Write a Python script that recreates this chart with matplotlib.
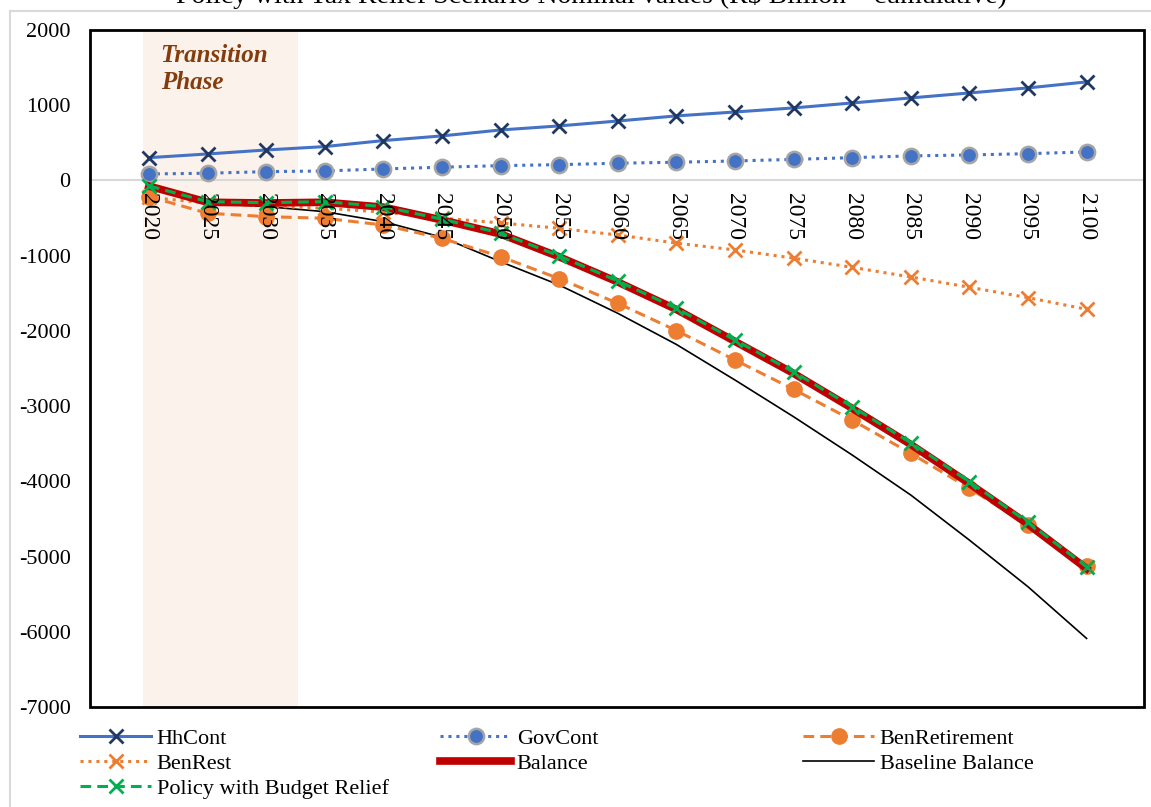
import numpy as np
import matplotlib
matplotlib.use('Agg')
import matplotlib.pyplot as plt
from matplotlib.lines import Line2D
from matplotlib.patches import Rectangle

plt.rcParams['font.family'] = ['Liberation Serif', 'DejaVu Serif']

# Valores nominais acumulados (R$ bilhões)
anos = list(range(2020, 2101, 5))
hh_cont = [303, 352, 405, 450, 530, 592, 671, 725, 790, 858, 910, 964, 1030, 1097, 1163, 1230, 1310]
gov_cont = [86, 96, 117, 126, 153, 176, 197, 210, 229, 242, 259, 280, 303, 326, 339, 356, 379]
ben_retirement = [-215, -436, -481, -503, -592, -770, -1013, -1305, -1633, -1995, -2387, -2777,
                  -3185, -3628, -4093, -4581, -5122]
ben_rest = [-225, -300, -340, -370, -420, -500, -565, -636, -725, -833, -924, -1033,
            -1155, -1283, -1420, -1558, -1713]
balance = [-75, -290, -300, -290, -355, -525, -712, -1015, -1350, -1715, -2140, -2565,
           -3030, -3510, -4030, -4570, -5160]
baseline_balance = [-75, -303, -348, -415, -548, -755, -1080, -1390, -1766, -2180, -2653, -3141,
                    -3650, -4182, -4781, -5401, -6088]
budget_relief = [-73, -282, -295, -282, -348, -515, -700, -1004, -1336, -1700, -2121, -2546,
                 -3008, -3487, -4005, -4545, -5136]

y_ticks = list(range(-7000, 2001, 1000))
fase_transicao = (2019.5, 2032.75)

W, H = 1151, 807
fig = plt.figure(figsize=(W / 100, H / 100), dpi=100)
ax = fig.add_axes([90 / W, 1 - 707 / H, (1144 - 90) / W, (707 - 30) / H])

# eixo das categorias cruzando em zero (antes de mexer nos rótulos, pois reseta os ticks)
for lado in ['top', 'left', 'right']:
    ax.spines[lado].set_visible(False)
ax.spines['bottom'].set_position(('data', 0))
ax.spines['bottom'].set_color('#D9D9D9')
ax.spines['bottom'].set_linewidth(1.5)
ax.spines['bottom'].set_zorder(2)

# faixa da fase de transição
ax.axvspan(*fase_transicao, color='#FCF2EC', zorder=0, lw=0)
ax.text(2021.0, 1810, 'Transition\nPhase', fontsize=18, fontweight='bold', fontstyle='italic',
        color='#843C0C', va='top', ha='left', linespacing=1.2, zorder=1)

ax.plot(anos, hh_cont, color='#4472C4', lw=2.2, marker='x', ms=10.5, mew=2,
        mec='#203864', label='HhCont', zorder=5)
ax.plot(anos, gov_cont, color='#4472C4', lw=2.2, ls=(0, (1, 1.6)), marker='o', ms=11,
        mfc='#4472C4', mec='#A5A5A5', mew=1.8, label='GovCont', zorder=5)
ax.plot(anos, ben_retirement, color='#ED7D31', lw=2.2, ls=(0, (3.5, 2)), marker='o', ms=11,
        mfc='#ED7D31', mec='#ED7D31', label='BenRetirement', zorder=4)
ax.plot(anos, ben_rest, color='#ED7D31', lw=2.2, ls=(0, (1, 1.6)), marker='x', ms=10.5, mew=2,
        label='BenRest', zorder=4)
ax.plot(anos, balance, color='#C00000', lw=5.5, label='Balance', zorder=6)
ax.plot(anos, baseline_balance, color='black', lw=1.2, label='Baseline Balance', zorder=3)
ax.plot(anos, budget_relief, color='#00B050', lw=2.2, ls=(0, (3.5, 2)), marker='x', ms=10.5, mew=2,
        label='Policy with Budget Relief', zorder=7)

ax.set_xlim(2014.97, 2104.9)
ax.set_ylim(-7000, 2000)
ax.set_yticks(y_ticks)
ax.set_yticklabels([str(v) for v in y_ticks], fontsize=16)
ax.set_xticks(anos)
ax.set_xticklabels([str(a) for a in anos], fontsize=17, rotation=270)
ax.tick_params(axis='x', length=0, pad=9)
ax.tick_params(axis='y', length=0, pad=14)
ax.xaxis.set_zorder(8)   # rótulos dos anos por cima das linhas

ax.add_patch(Rectangle((0, 0), 1, 1, transform=ax.transAxes, fill=False, ec='black',
                       lw=2, clip_on=False, zorder=10))

# moldura do gráfico
fig.add_artist(Line2D([10 / W, 10 / W], [0, 1 - 11 / H], color='#D9D9D9', lw=1.5))
fig.add_artist(Line2D([10 / W, 1], [1 - 11 / H, 1 - 11 / H], color='#D9D9D9', lw=1.5))

fig.text(591 / W, 1 - 3 / H, 'Policy with Tax Relief Scenario Nominal values (R\\$ Billion \u2013 cumulative)',
         fontsize=20, ha='center', va='baseline')

# legenda em três colunas
handles, labels = ax.get_legend_handles_labels()
lookup = dict(zip(labels, handles))
colunas = [(['HhCont', 'BenRest', 'Policy with Budget Relief'], 80),
           (['GovCont', 'Balance'], 440),
           (['BenRetirement', 'Baseline Balance'], 803)]
for nomes, x0 in colunas:
    leg = fig.legend([lookup[n] for n in nomes], nomes, loc='upper left',
                     bbox_to_anchor=(x0 / W, 1 - 728 / H), frameon=False, fontsize=16,
                     handlelength=3.2, handletextpad=0.25, labelspacing=0.2,
                     borderpad=0, borderaxespad=0)

fig.savefig('out.png', dpi=100)
